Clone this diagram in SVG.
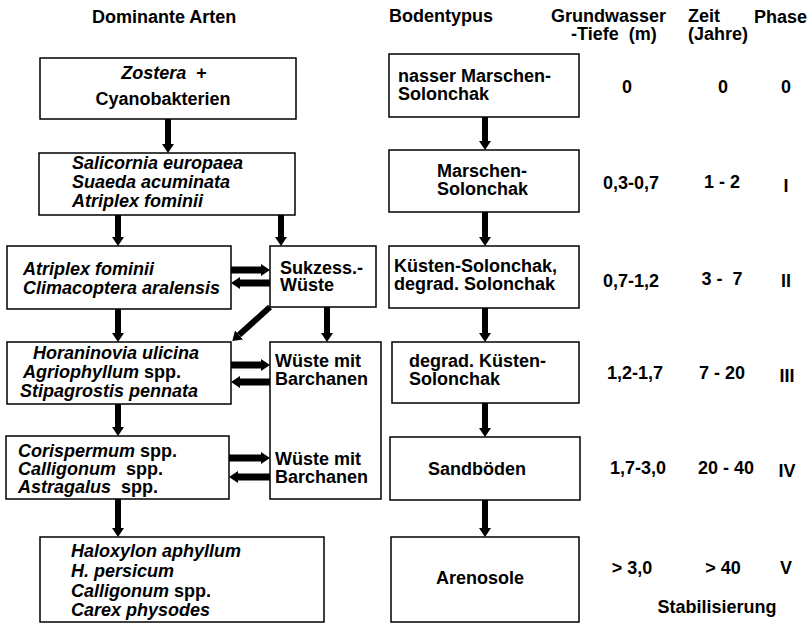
<svg xmlns="http://www.w3.org/2000/svg" width="812" height="624" viewBox="0 0 812 624">
<style>
text{font-family:"Liberation Sans",Arial,sans-serif;font-size:18px;font-weight:bold;fill:#000;white-space:pre}
.i{font-style:italic}
.c{text-anchor:middle}
rect{fill:#fff;stroke:#000;stroke-width:1.5}
.ar{stroke:#000;stroke-width:6;fill:none;marker-end:url(#ah)}
.ah{stroke:#000;stroke-width:7;fill:none;marker-end:url(#ah)}
</style>
<defs>
<marker id="ah" viewBox="0 0 9 12" refX="0" refY="6" markerWidth="9" markerHeight="12" markerUnits="userSpaceOnUse" orient="auto">
<path d="M0,0 L9,6 L0,12 z" fill="#000"/>
</marker>
</defs>
<rect width="812" height="624" style="stroke:none"/>
<g id="headers">
<text x="92" y="23">Dominante Arten</text>
<text x="389" y="22">Bodentypus</text>
<text x="551" y="22">Grundwasser</text>
<text x="571" y="40">-Tiefe  (m)</text>
<text x="688" y="22">Zeit</text>
<text x="688" y="40">(Jahre)</text>
<text x="754" y="23">Phase</text>
</g>
<g id="connectors">
<line class="ar" x1="168" y1="119" x2="168" y2="144"/>
<line class="ar" x1="118" y1="215" x2="118" y2="237"/>
<line class="ar" x1="281" y1="215" x2="281" y2="237"/>
<line class="ar" x1="118" y1="309" x2="118" y2="333"/>
<line class="ar" x1="327" y1="307" x2="327" y2="333"/>
<line class="ar" x1="270" y1="307" x2="239" y2="335"/>
<line class="ar" x1="118" y1="404" x2="118" y2="427"/>
<line class="ar" x1="118" y1="499" x2="118" y2="528"/>
<line class="ah" x1="231" y1="270" x2="261" y2="270"/>
<line class="ah" x1="270" y1="283" x2="240" y2="283"/>
<line class="ah" x1="231" y1="365" x2="261" y2="365"/>
<line class="ah" x1="270" y1="382" x2="240" y2="382"/>
<line class="ah" x1="229" y1="458" x2="261" y2="458"/>
<line class="ah" x1="270" y1="477" x2="238" y2="477"/>
<line class="ar" x1="485" y1="117" x2="485" y2="141"/>
<line class="ar" x1="485" y1="212" x2="485" y2="237"/>
<line class="ar" x1="485" y1="308" x2="485" y2="333"/>
<line class="ar" x1="485" y1="403" x2="485" y2="428"/>
<line class="ar" x1="485" y1="500" x2="485" y2="528"/>
</g>
<g id="n1">
<rect x="40" y="58" width="256" height="61"/>
<text x="164" y="79" class="c"><tspan class="i">Zostera</tspan>  +</text>
<text x="163" y="105" class="c">Cyanobakterien</text>
</g>
<g id="n2">
<rect x="39" y="153" width="256" height="62"/>
<text x="72" y="169" class="i">Salicornia europaea</text>
<text x="72" y="188" class="i">Suaeda acuminata</text>
<text x="72" y="207" class="i">Atriplex fominii</text>
</g>
<g id="n3">
<rect x="7" y="246" width="224" height="63"/>
<text x="23" y="275" class="i">Atriplex fominii</text>
<text x="23" y="294" class="i">Climacoptera aralensis</text>
</g>
<g id="n4">
<rect x="270" y="246" width="106" height="61"/>
<text x="280" y="274">Sukzess.-</text>
<text x="280" y="291">Wüste</text>
</g>
<g id="n5">
<rect x="7" y="342" width="224" height="62"/>
<text x="33" y="359" class="i">Horaninovia ulicina</text>
<text x="23" y="378"><tspan class="i">Agriophyllum</tspan> spp.</text>
<text x="20" y="397" class="i">Stipagrostis pennata</text>
</g>
<g id="n6">
<rect x="270" y="342" width="111" height="157"/>
<text x="275" y="367">Wüste mit</text>
<text x="275" y="385">Barchanen</text>
<text x="275" y="465">Wüste mit</text>
<text x="275" y="483">Barchanen</text>
</g>
<g id="n7">
<rect x="6" y="436" width="223" height="63"/>
<text x="18" y="457"><tspan class="i">Corispermum</tspan> spp.</text>
<text x="18" y="475"><tspan class="i">Calligonum</tspan>  spp.</text>
<text x="18" y="493"><tspan class="i">Astragalus</tspan>  spp.</text>
</g>
<g id="n8">
<rect x="40" y="537" width="284" height="85"/>
<text x="71" y="557" class="i">Haloxylon aphyllum</text>
<text x="71" y="577" class="i">H. persicum</text>
<text x="71" y="597"><tspan class="i">Calligonum</tspan> spp.</text>
<text x="71" y="616" class="i">Carex physodes</text>
</g>
<g id="b1">
<rect x="389" y="54" width="190" height="63"/>
<text x="398" y="82">nasser Marschen-</text>
<text x="398" y="100">Solonchak</text>
</g>
<g id="b2">
<rect x="389" y="150" width="190" height="62"/>
<text x="437" y="177">Marschen-</text>
<text x="437" y="195">Solonchak</text>
</g>
<g id="b3">
<rect x="389" y="246" width="190" height="62"/>
<text x="394" y="272">Küsten-Solonchak,</text>
<text x="394" y="290">degrad. Solonchak</text>
</g>
<g id="b4">
<rect x="392" y="342" width="187" height="61"/>
<text x="409" y="367">degrad. Küsten-</text>
<text x="409" y="385">Solonchak</text>
</g>
<g id="b5">
<rect x="390" y="437" width="190" height="63"/>
<text x="477" y="475" class="c">Sandböden</text>
</g>
<g id="b6">
<rect x="391" y="537" width="188" height="85"/>
<text x="480" y="584" class="c">Arenosole</text>
</g>
<g id="values">
<text x="627" y="93" class="c">0</text>
<text x="723" y="93" class="c">0</text>
<text x="786" y="93" class="c">0</text>
<text x="631" y="189" class="c">0,3-0,7</text>
<text x="722" y="188" class="c">1 - 2</text>
<text x="786" y="192" class="c">I</text>
<text x="631" y="287" class="c">0,7-1,2</text>
<text x="722" y="285" class="c">3 -  7</text>
<text x="786" y="287" class="c">II</text>
<text x="635" y="379" class="c">1,2-1,7</text>
<text x="722" y="379" class="c">7 - 20</text>
<text x="787" y="382" class="c">III</text>
<text x="638" y="474" class="c">1,7-3,0</text>
<text x="726" y="474" class="c">20 - 40</text>
<text x="787" y="477" class="c">IV</text>
<text x="632" y="574" class="c">&gt; 3,0</text>
<text x="723" y="574" class="c">&gt; 40</text>
<text x="786" y="574" class="c">V</text>
<text x="717" y="613" class="c">Stabilisierung</text>
</g>
</svg>
